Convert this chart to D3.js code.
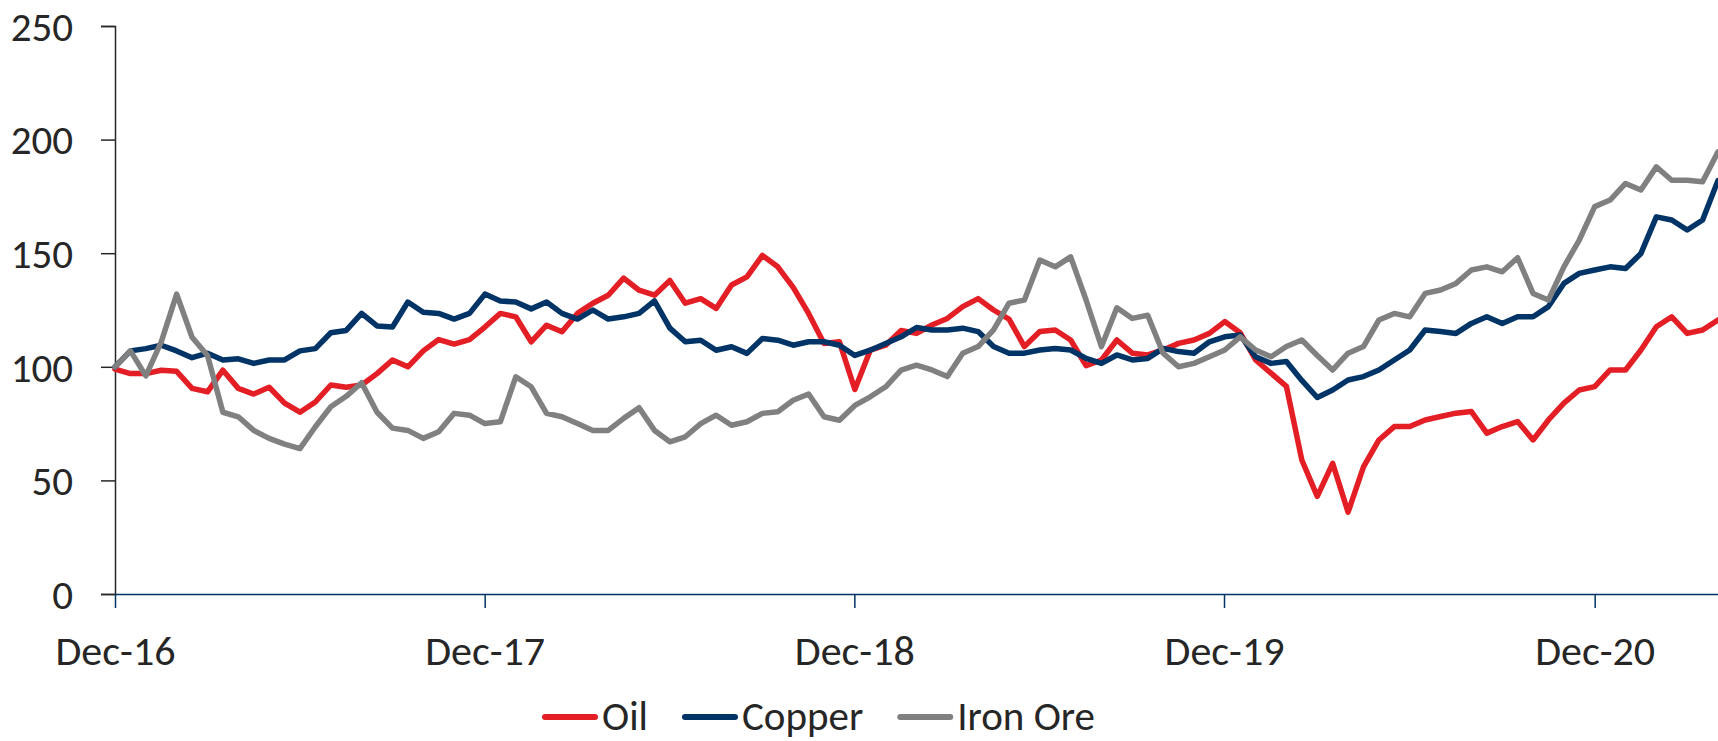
<!DOCTYPE html>
<html>
<head>
<meta charset="utf-8">
<script src="https://cdn.jsdelivr.net/npm/d3@7"></script>
<style>
  body { margin: 0; background: #fff; }
  text { font-family: Carlito, Calibri, Lato, sans-serif; fill: #262626; }
</style>
</head>
<body>
<div id="chart"></div>
<script>
// half-monthly observations, indexed to 100 at Dec-16
const startDate = new Date(2016, 11, 1);
const stepDays = 365.25 / 24;

const oil = [99, 97, 97, 98.5, 98, 90.5, 89, 98.5, 90.5, 88, 91, 84, 80, 84.5, 92, 91, 92, 97, 103, 100,
  107, 112, 110, 112, 117.5, 123.5, 122, 111, 118.3, 115.4, 123.5, 128, 131.5, 139, 133.7, 131.5, 138, 128, 130, 125.7,
  136, 139.6, 149, 144, 135, 123.5, 110.3, 111, 90, 107.3, 109.5, 116, 114.7, 118.4, 121.3, 126.5, 130, 125, 121, 108.9,
  115.5, 116.2, 111.8, 100.5, 103, 111.8, 106, 105.2, 107.4, 110.3, 111.8, 114.7, 119.9, 115, 103, 97.2, 91.4, 59, 43, 57.5,
  36, 56, 67.8, 73.7, 73.7, 76.6, 78.1, 79.6, 80.3, 70.8, 73.7, 75.9, 67.8, 76.6, 84, 89.8, 91.3, 98.6, 98.6, 107.4,
  117.6, 122, 114.7, 116.2, 120.6];

const copper = [100, 107, 108, 109.5, 107, 104, 106, 103, 103.5, 101.5, 103, 103, 107, 108, 115, 116, 123.5, 118, 117.5, 128.5,
  124, 123.5, 121, 123.5, 132, 129, 128.5, 125.5, 128.5, 123.5, 121, 125, 121, 122, 123.5, 129, 117, 111, 111.7, 107.3,
  108.8, 105.9, 112.5, 111.7, 109.5, 111, 111, 109.5, 105, 107.3, 110.3, 113.2, 117.3, 116.2, 116.2, 117, 115.5, 108.9, 106, 106,
  107.4, 108.1, 107.4, 103.7, 101.5, 105.2, 103, 103.7, 108.1, 106.7, 106, 111, 113.2, 114, 104.4, 101.5, 102.3, 94, 86.5, 89.8,
  94.2, 95.7, 98.6, 103, 107.4, 116.2, 115.5, 114.7, 119.1, 122, 119.1, 122, 122, 126.5, 136.7, 141.1, 142.6, 144, 143.3, 149.9,
  166, 164.6, 160.2, 164.6, 182];

const ironOre = [100, 107, 96, 111, 132, 113, 105, 80, 78, 72, 68.5, 66, 64, 73.6, 82.4, 87, 93, 80, 73, 72,
  68.5, 71.4, 79.5, 78.7, 75, 75.8, 95.6, 91.2, 79.5, 78, 75, 72, 72, 77.3, 82, 72, 67, 69.2, 75, 78.7,
  74.3, 75.8, 79.5, 80.2, 85.3, 88, 78, 76.5, 83, 86.8, 91.2, 98.5, 100.7, 98.6, 95.7, 106, 108.9, 116.2, 128, 129.4,
  147, 144, 148.4, 129.4, 108.9, 126, 121.3, 122.7, 106, 100, 101.5, 104.4, 107.4, 113.2, 107.4, 104.4, 108.9, 111.8, 105, 98.6,
  106, 108.9, 120.6, 123.5, 122, 132.3, 133.8, 136.7, 142.6, 144, 141.8, 148, 132.3, 129.4, 144, 155.8, 170.5, 173.4, 180.7, 177.8,
  188, 182.1, 182.1, 181.4, 194.6];

const seriesNames = ["Oil", "Copper", "Iron Ore"];
const seriesColors = ["#e31e24", "#003366", "#808080"];
const yTicks = [0, 50, 100, 150, 200, 250];
const xTickYears = [2016, 2017, 2018, 2019, 2020];

const dates = oil.map((d, i) => d3.timeHour.offset(startDate, Math.round(i * stepDays * 24)));
const seriesValues = [oil, copper, ironOre];

let dimensions = {
  width: 1718,
  height: 741,
  margin: { top: 26, right: 0, bottom: 147, left: 115 },
};
dimensions.boundedWidth = dimensions.width - dimensions.margin.left - dimensions.margin.right;
dimensions.boundedHeight = dimensions.height - dimensions.margin.top - dimensions.margin.bottom;

const wrapper = d3.select("#chart")
  .append("svg")
  .attr("width", dimensions.width)
  .attr("height", dimensions.height);

const bounds = wrapper.append("g")
  .attr("transform", `translate(${dimensions.margin.left},${dimensions.margin.top})`);

const x = d3.scaleTime()
  .domain([startDate, dates[dates.length - 1]])
  .range([0, dimensions.boundedWidth]);

const y = d3.scaleLinear()
  .domain([0, 250])
  .range([dimensions.boundedHeight, 0]);

// axes
const yAxis = bounds.append("g")
  .call(d3.axisLeft(y).tickValues(yTicks).tickSize(14).tickPadding(28).tickFormat(d3.format("d")));
yAxis.select(".domain").attr("stroke", "#262626").attr("stroke-width", 1.5);
yAxis.selectAll(".tick line").attr("stroke", "#262626").attr("stroke-width", 1.5);
yAxis.selectAll(".tick text").style("font-size", "41px").attr("fill", "#262626").attr("dy", "0.35em");

const xAxis = bounds.append("g")
  .attr("transform", `translate(0,${dimensions.boundedHeight})`)
  .call(d3.axisBottom(x)
    .tickValues(xTickYears.map(yr => new Date(yr, 11, 1)))
    .tickSize(14)
    .tickSizeOuter(0)
    .tickPadding(27)
    .tickFormat(d3.timeFormat("%b-%y")));
xAxis.select(".domain").attr("stroke", "#003366").attr("stroke-width", 1.5);
xAxis.selectAll(".tick line").attr("stroke", "#003366").attr("stroke-width", 1.5);
xAxis.selectAll(".tick text").style("font-size", "42px").attr("fill", "#262626");

// lines
const lineGenerator = d3.line()
  .x((d, i) => x(dates[i]))
  .y(d => y(d));

bounds.selectAll(".series")
  .data(seriesValues)
  .join("path")
  .attr("class", "series")
  .attr("d", d => lineGenerator(d))
  .attr("fill", "none")
  .attr("stroke", (d, i) => seriesColors[i])
  .attr("stroke-width", 5.5)
  .attr("stroke-linejoin", "round")
  .attr("stroke-linecap", "round");

// legend
const legend = wrapper.append("g").attr("transform", "translate(542,717)");
let legendX = 0;
seriesNames.forEach((name, i) => {
  legend.append("line")
    .attr("x1", legendX + 3).attr("x2", legendX + 53)
    .attr("y1", 0).attr("y2", 0)
    .attr("stroke", seriesColors[i])
    .attr("stroke-width", 6)
    .attr("stroke-linecap", "round");
  const label = legend.append("text")
    .attr("x", legendX + 60)
    .attr("y", 13)
    .style("font-size", "41px")
    .text(name);
  legendX += 60 + label.node().getComputedTextLength() + 34;
});
</script>
</body>
</html>
